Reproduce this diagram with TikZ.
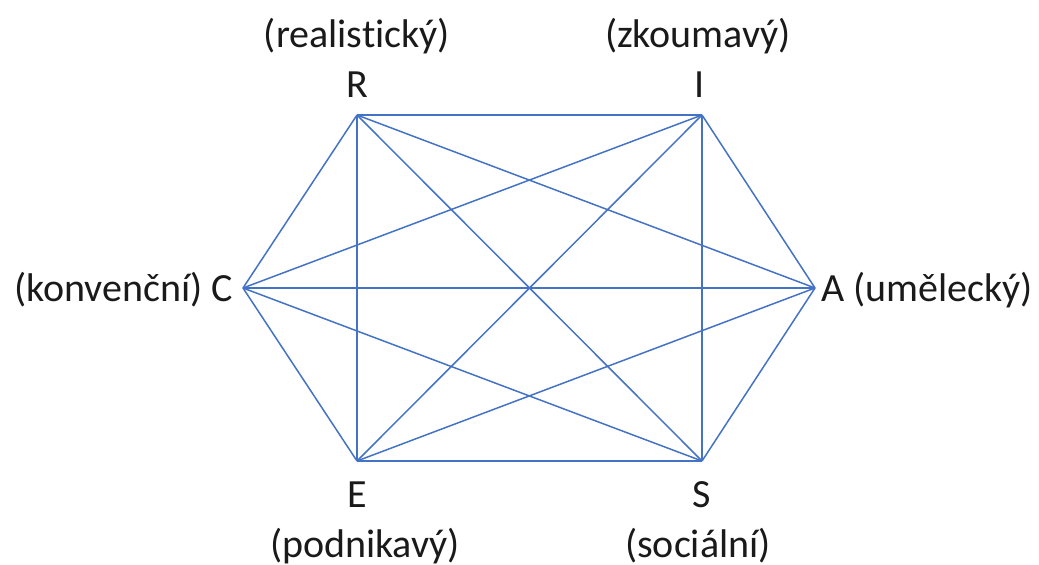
\documentclass[tikz,border=0pt]{standalone}
\usepackage{fontspec}
\setmainfont[Ligatures=NoCommon]{Carlito}
\definecolor{edgeblue}{HTML}{4472C4}
\definecolor{labelgray}{HTML}{1A1A1A}
\begin{document}
\begin{tikzpicture}[x=1pt,y=-1pt,
  edge/.style={draw=edgeblue,line width=1.5pt},
  lbl/.style={inner sep=0pt,anchor=base,text=labelgray,font=\fontsize{40}{47}\selectfont}]
\useasboundingbox (0,0) rectangle (1039,565);
\coordinate (R) at (357,115);
\coordinate (I) at (702,115);
\coordinate (A) at (815,288);
\coordinate (S) at (702,461);
\coordinate (E) at (357,461);
\coordinate (C) at (243,288);
% hexagon
\draw[edge] (R) -- (I);
\draw[edge] (I) -- (A);
\draw[edge] (A) -- (S);
\draw[edge] (S) -- (E);
\draw[edge] (E) -- (C);
\draw[edge] (C) -- (R);
% diagonals
\draw[edge] (R) -- (A);
\draw[edge] (R) -- (S);
\draw[edge] (R) -- (E);
\draw[edge] (I) -- (C);
\draw[edge] (I) -- (E);
\draw[edge] (I) -- (S);
\draw[edge] (C) -- (A);
\draw[edge] (C) -- (S);
\draw[edge] (E) -- (A);
% labels
\node[lbl] (rl) at (357,47) {(realistický)};
\node[lbl] (rn) at (357,97) {R};
\node[lbl] (il) at (698,47) {(zkoumavý)};
\node[lbl] (in) at (700,97) {I};
\node[lbl,anchor=base east] (cn) at (233,301) {(konvenční) C};
\node[lbl,anchor=base west] (an) at (821,301) {A (umělecký)};
\node[lbl] (en) at (357,507) {E};
\node[lbl] (el) at (365,557) {(podnikavý)};
\node[lbl] (sn) at (702,507) {S};
\node[lbl] (sl) at (698,557) {(sociální)};
\end{tikzpicture}
\end{document}
